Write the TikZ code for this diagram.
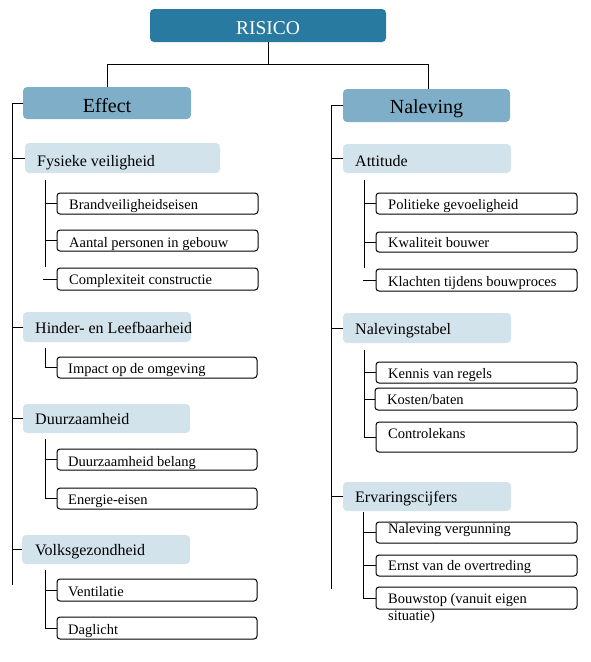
\documentclass[tikz,border=0pt]{standalone}
\usepackage{fontspec}
\setmainfont{Liberation Serif}
\definecolor{risicoc}{RGB}{40,122,160}
\definecolor{mainc}{RGB}{127,175,200}
\definecolor{catc}{RGB}{211,227,236}
\tikzset{
  bx/.style={rectangle, inner sep=0pt, outer sep=0pt},
  topbox/.style={bx, fill=risicoc, rounded corners=4pt},
  mainbox/.style={bx, fill=mainc, rounded corners=4pt},
  catbox/.style={bx, fill=catc, rounded corners=4pt},
  leafbox/.style={bx, draw=black, line width=1pt, rounded corners=3pt, fill=white},
  toptext/.style={anchor=base, inner sep=0pt, text=white, font=\fontsize{19.5}{22}\selectfont},
  maintext/.style={anchor=base, inner sep=0pt, font=\fontsize{20}{23}\selectfont},
  cattext/.style={anchor=base west, inner sep=0pt, font=\fontsize{16}{19}\selectfont},
  leaftext/.style={anchor=base west, inner sep=0pt, font=\fontsize{14.5}{17}\selectfont},
  conn/.style={draw=black, line width=1pt}
}
\begin{document}
\begin{tikzpicture}[x=1pt,y=-1pt]
\useasboundingbox (0,0) rectangle (591,662);
% boxes
\node[topbox, minimum width=236, minimum height=33] (risico) at (268,25.5) {};
\node[toptext] (risicot) at (268,34) {RISICO};
\node[mainbox, minimum width=168, minimum height=32] (effect) at (107,103) {};
\node[maintext] (effectt) at (107,112) {Effect};
\node[mainbox, minimum width=167, minimum height=33] (naleving) at (426.5,105.5) {};
\node[maintext] (navelingt) at (426.5,113) {Naleving};
% left categories
\node[catbox, minimum width=195, minimum height=30] (fysiek) at (122.5,158) {};
\node[cattext] (fysiekt) at (37,166) {Fysieke veiligheid};
\node[catbox, minimum width=168, minimum height=30] (hinder) at (107,327) {};
\node[cattext] (hindert) at (35,333) {Hinder- en Leefbaarheid};
\node[catbox, minimum width=167, minimum height=29] (duurz) at (106.5,418.5) {};
\node[cattext] (duurzt) at (35,424) {Duurzaamheid};
\node[catbox, minimum width=168, minimum height=29] (volks) at (106,549.5) {};
\node[cattext] (volkst) at (35,555) {Volksgezondheid};
% right categories
\node[catbox, minimum width=168, minimum height=29] (attitude) at (427,158.5) {};
\node[cattext] (attitudet) at (355,166) {Attitude};
\node[catbox, minimum width=168, minimum height=30] (nstabel) at (427,328) {};
\node[cattext] (nstabelt) at (355,334) {Nalevingstabel};
\node[catbox, minimum width=168, minimum height=29] (ervar) at (427,496.5) {};
\node[cattext] (ervart) at (355,502) {Ervaringscijfers};
% left leaves
\node[leafbox, minimum width=201, minimum height=21] (brand) at (157.5,203.5) {};
\node[leaftext] (brandt) at (69,209) {Brandveiligheidseisen};
\node[leafbox, minimum width=201, minimum height=21] (aantal) at (157.5,240.5) {};
\node[leaftext] (aantalt) at (69,247) {Aantal personen in gebouw};
\node[leafbox, minimum width=201, minimum height=22] (complex) at (157.5,279) {};
\node[leaftext] (complext) at (69,284) {Complexiteit constructie};
\node[leafbox, minimum width=200, minimum height=21] (impact) at (157,367.5) {};
\node[leaftext] (impactt) at (68,373) {Impact op de omgeving};
\node[leafbox, minimum width=200, minimum height=21] (dbelang) at (157,459.5) {};
\node[leaftext] (dbelangt) at (68,466) {Duurzaamheid belang};
\node[leafbox, minimum width=200, minimum height=21] (energie) at (157,498.5) {};
\node[leaftext] (energiet) at (68,504) {Energie-eisen};
\node[leafbox, minimum width=200, minimum height=22] (vent) at (157,590) {};
\node[leaftext] (ventt) at (68,596) {Ventilatie};
\node[leafbox, minimum width=200, minimum height=22] (dag) at (157,628) {};
\node[leaftext] (dagt) at (68,634) {Daglicht};
% right leaves
\node[leafbox, minimum width=201, minimum height=21] (polit) at (476.5,203.5) {};
\node[leaftext] (politt) at (388,209) {Politieke gevoeligheid};
\node[leafbox, minimum width=201, minimum height=20] (kwal) at (476.5,242) {};
\node[leaftext] (kwalt) at (388,247) {Kwaliteit bouwer};
\node[leafbox, minimum width=201, minimum height=22] (klacht) at (476.5,280) {};
\node[leaftext] (klachtt) at (388,286) {Klachten tijdens bouwproces};
\node[leafbox, minimum width=201, minimum height=21] (kennis) at (476.5,372.5) {};
\node[leaftext] (kennist) at (388,378) {Kennis van regels};
\node[leafbox, minimum width=202, minimum height=22] (kosten) at (476,399) {};
\node[leaftext] (kostent) at (387,404) {Kosten/baten};
\node[leafbox, minimum width=201, minimum height=30] (controle) at (476.5,437) {};
\node[leaftext] (controlet) at (388,438) {Controlekans};
\node[leafbox, minimum width=201, minimum height=21] (nvergun) at (476.5,532.5) {};
\node[leaftext] (nvergunt) at (388,533) {Naleving vergunning};
\node[leafbox, minimum width=201, minimum height=21] (ernst) at (476.5,565.5) {};
\node[leaftext] (ernstt) at (388,570) {Ernst van de overtreding};
\node[leafbox, minimum width=201, minimum height=22] (bouwstop) at (476.5,598) {};
\node[leaftext] (bouwstopt) at (388,603) {Bouwstop (vanuit eigen};
\node[leaftext] (bouwstopt2) at (388,620) {situatie)};
% coordinates
\coordinate (split) at (268,64);
\coordinate (lmtop) at (12,103);
\coordinate (lmbot) at (12,585);
\coordinate (rmtop) at (331,105.5);
\coordinate (rmbot) at (331,589);
% top connectors
\draw[conn] (risico.south) -- (split) -| (effect.north);
\draw[conn] (split) -| (428,89);
% main vertical lines
\draw[conn] (effect.west) -- (lmtop) -- (lmbot);
\draw[conn] (naleving.west) -- (rmtop) -- (rmbot);
\foreach \n in {fysiek,hinder,duurz,volks} \draw[conn] (\n.west) -- (\n.west -| lmtop);
\foreach \n in {attitude,nstabel,ervar} \draw[conn] (\n.west) -- (\n.west -| rmtop);
% left sub lines
\draw[conn] (45,180) -- (45,267);
\draw[conn] (brand.west) -- ++(-12,0);
\draw[conn] (aantal.west) -- ++(-12,0);
\draw[conn] (complex.west) -- ++(-14,0);
\draw[conn] (45,348) |- (impact.west);
\draw[conn] (45,439) |- (energie.west);
\draw[conn] (dbelang.west) -- ++(-12,0);
\draw[conn] (45,570) |- (dag.west);
\draw[conn] (vent.west) -- ++(-12,0);
% right sub lines
\draw[conn] (364,180) -- (364,268);
\draw[conn] (polit.west) -- ++(-12,0);
\draw[conn] (kwal.west) -- ++(-12,0);
\draw[conn] (klacht.west) -- ++(-13,0);
\draw[conn] (364,350) |- (controle.west);
\draw[conn] (kennis.west) -- ++(-12,0);
\draw[conn] (kosten.west) -- ++(-11,0);
\draw[conn] (363,512) |- (bouwstop.west);
\draw[conn] (nvergun.west) -- ++(-13,0);
\draw[conn] (ernst.west) -- ++(-13,0);
\end{tikzpicture}
\end{document}
